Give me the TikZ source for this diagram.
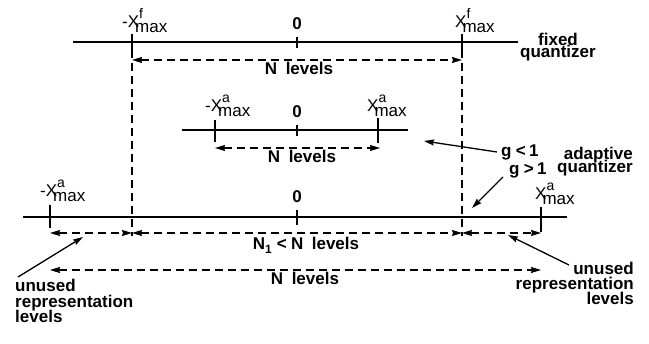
\documentclass[tikz,border=0pt]{standalone}
\usepackage{fontspec}
\setmainfont{Liberation Sans}
\usetikzlibrary{arrows.meta}

% X with a superscript tag and a "max" subscript
\newcommand{\xmaxlab}[2]{#1X\rlap{\raisebox{9.5pt}{\fontsize{14}{14}\selectfont #2}}\kern-4pt\raisebox{-5pt}{max}}

\begin{document}
\begin{tikzpicture}[x=1pt,y=-1pt,
  axisline/.style={line width=2.2pt},
  tickmark/.style={line width=1.6pt},
  guide/.style={line width=1.1pt, dash pattern=on 8pt off 5pt},
  span/.style={line width=1.4pt, dash pattern=on 8pt off 5pt,
    {Stealth[length=10pt,width=6pt,inset=1pt]}-{Stealth[length=10pt,width=6pt,inset=1pt]}},
  pointer/.style={line width=1.3pt, -{Stealth[length=10pt,width=6pt,inset=1pt]}},
  lbl/.style={font=\fontsize{17}{17}\selectfont\bfseries, inner sep=0pt},
  xlbl/.style={font=\fontsize{17}{17}\selectfont, inner sep=0pt, anchor=base west},
]
\useasboundingbox (0,0) rectangle (649,344);

% ---------- fixed quantizer ----------
\coordinate (fL) at (73,42);  \coordinate (fR) at (518,42);
\draw[axisline] (fL) -- (fR);
\draw[tickmark] (132,34) -- (132,50);
\draw[tickmark] (297,37) -- (297,48);
\draw[tickmark] (462,34) -- (462,50);
\node[xlbl] (fxminus) at (122,28) {\xmaxlab{-}{f}};
\node[xlbl] (fxplus)  at (455,28) {\xmaxlab{}{f}};
\node[lbl, anchor=base] (fzero) at (297,30) {0};
\node[lbl, anchor=base] (fixedA) at (558,46) {fixed};
\node[lbl, anchor=base] (fixedB) at (558,58) {quantizer};

\coordinate (ga1) at (132,60); \coordinate (gb1) at (462,60);
\draw[span] (ga1) -- (gb1);
\node[lbl, anchor=base] (fN) at (299,75) {N\hspace{0.5em}levels};

% vertical guides from the fixed range down to the lower axis
\coordinate (ga0) at (132,50); \coordinate (ga2) at (132,236);
\coordinate (gb0) at (462,50); \coordinate (gb2) at (462,236);
\draw[guide] (ga0) -- (ga2);
\draw[guide] (gb0) -- (gb2);

% ---------- adaptive quantizer, g < 1 ----------
\coordinate (mL) at (182,130); \coordinate (mR) at (408,130);
\draw[axisline] (mL) -- (mR);
\draw[tickmark] (215,120) -- (215,142);
\draw[tickmark] (297,125) -- (297,136);
\draw[tickmark] (378,118) -- (378,143);
\node[xlbl] (mxminus) at (205,112) {\xmaxlab{-}{a}};
\node[xlbl] (mxplus)  at (367,112) {\xmaxlab{}{a}};
\node[lbl, anchor=base] (mzero) at (297,118) {0};
\coordinate (ma) at (215,148); \coordinate (mb) at (380,148);
\draw[span] (ma) -- (mb);
\node[lbl, anchor=base] (mN) at (302,163) {N\hspace{0.5em}levels};

% ---------- adaptive quantizer, g > 1 ----------
\coordinate (bL) at (23,217); \coordinate (bR) at (567,217);
\draw[axisline] (bL) -- (bR);
\draw[tickmark] (50,205) -- (50,228);
\draw[tickmark] (297,210) -- (297,225);
\draw[tickmark] (541,207) -- (541,232);
\node[xlbl] (bxminus) at (40,197) {\xmaxlab{-}{a}};
\node[xlbl] (bxplus)  at (535,200) {\xmaxlab{}{a}};
\node[lbl, anchor=base] (bzero) at (297,203) {0};

\coordinate (ba) at (50,233); \coordinate (bm1) at (132,233);
\coordinate (bm2) at (462,233); \coordinate (bb) at (541,233);
\draw[span] (ba) -- (bm1);
\draw[span] (bm1) -- (bm2);
\draw[span] (bm2) -- (bb);
\node[lbl, anchor=base] (bN1) at (306,250)
  {N\raisebox{-4pt}{\fontsize{12}{12}\selectfont 1}\hspace{0.3em}<\hspace{0.25em}N\hspace{0.5em}levels};

\coordinate (ca) at (50,270); \coordinate (cb) at (541,270);
\draw[span] (ca) -- (cb);
\node[lbl, anchor=base] (cN) at (305,285) {N\hspace{0.5em}levels};

% ---------- gain labels ----------
\node[lbl, anchor=base west] (gless) at (501,157) {g\hspace{0.25em}<\hspace{0.2em}1};
\node[lbl, anchor=base west] (gmore) at (509,175) {g\hspace{0.25em}>\hspace{0.2em}1};
\node[lbl, anchor=base east] (adaptA) at (633,160) {adaptive};
\node[lbl, anchor=base east] (adaptB) at (633,173) {quantizer};
\coordinate (gls) at (497,152); \coordinate (glt) at (424,141);
\coordinate (gms) at (503,177); \coordinate (gmt) at (472,208);
\draw[pointer] (gls) -- (glt);
\draw[pointer] (gms) -- (gmt);

% ---------- unused representation levels ----------
\node[lbl, anchor=base west] (ulA) at (15,292) {unused};
\node[lbl, anchor=base west] (ulB) at (15,308) {representation};
\node[lbl, anchor=base west] (ulC) at (15,323) {levels};
\node[lbl, anchor=base east] (urA) at (634,275) {unused};
\node[lbl, anchor=base east] (urB) at (634,290) {representation};
\node[lbl, anchor=base east] (urC) at (634,305) {levels};
\coordinate (uls) at (18,277); \coordinate (ult) at (83,237);
\coordinate (urs) at (569,265); \coordinate (urt) at (508,235);
\draw[pointer] (uls) -- (ult);
\draw[pointer] (urs) -- (urt);
\end{tikzpicture}
\end{document}
